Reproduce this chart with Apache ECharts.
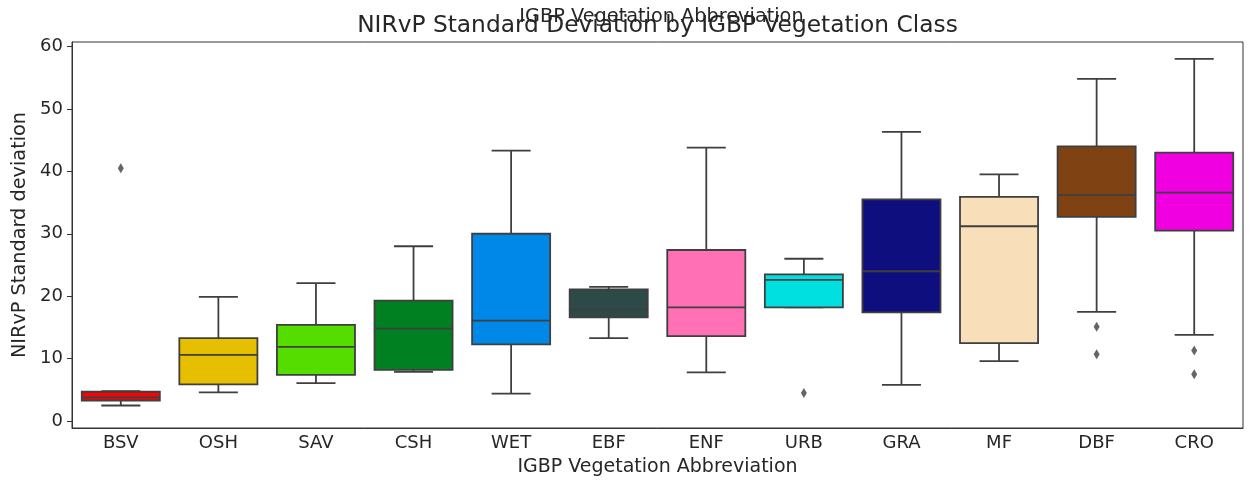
<!DOCTYPE html>
<html>
<head>
<meta charset="utf-8">
<script src="https://cdn.jsdelivr.net/npm/echarts@6/dist/echarts.min.js"></script>
<style>
  html, body { margin: 0; padding: 0; background: #fff; }
  #chart { width: 1255px; height: 484px; }
</style>
</head>
<body>
<div id="chart"></div>
<script>
// IGBP vegetation classes (x categories)
const categories = ['BSV', 'OSH', 'SAV', 'CSH', 'WET', 'EBF', 'ENF', 'URB', 'GRA', 'MF', 'DBF', 'CRO'];

// Five-number summaries per class: lower whisker, Q1, median, Q3, upper whisker
const whiskerLow  = [2.5,  4.6,  6.1,  7.9,  4.4, 13.3,  7.8, 18.2,  5.8,  9.6, 17.5, 13.8];
const quartile1   = [3.3,  5.9,  7.4,  8.2, 12.3, 16.6, 13.6, 18.2, 17.4, 12.5, 32.7, 30.5];
const medians     = [3.8, 10.6, 11.9, 14.8, 16.1, 17.9, 18.2, 22.6, 24.0, 31.2, 36.2, 36.6];
const quartile3   = [4.7, 13.3, 15.4, 19.3, 30.0, 21.1, 27.4, 23.5, 35.5, 35.9, 44.0, 43.0];
const whiskerHigh = [4.8, 19.9, 22.1, 28.0, 43.3, 21.5, 43.8, 26.0, 46.3, 39.5, 54.8, 58.0];

// Outliers: [class, value]
const outlierClass = ['BSV', 'URB', 'DBF', 'DBF', 'CRO', 'CRO'];
const outlierValue = [40.5,   4.5,  15.1,  10.7,  11.3,   7.5];

// Fill colour per class
const classColors = ['#ff0000', '#e6c000', '#55dd00', '#008020', '#0088e8', '#2b4a48',
                     '#ff70b4', '#00e0e0', '#0e0e7e', '#f8dfb9', '#7f4212', '#f000e0'];

// Y tick labels
const yTicks = [0, 10, 20, 30, 40, 50, 60];

const titleText = 'NIRvP Standard Deviation by IGBP Vegetation Class';
const xName = 'IGBP Vegetation Abbreviation';
const yName = 'NIRvP Standard deviation';

const lineColor = '#3f3f3f';
const frameColor = '#333333';
const textColor = '#262626';
const font = 'DejaVu Sans';

const gridLeft = 72, gridRight = 12;
const plotCenterX = gridLeft + (1255 - gridLeft - gridRight) / 2;

const boxData = categories.map((c, i) => [i, whiskerLow[i], quartile1[i], medians[i], quartile3[i], whiskerHigh[i]]);
const outlierData = outlierClass.map((c, i) => [categories.indexOf(c), outlierValue[i]]);

// Box with half-width whisker caps
function renderBox(params, api) {
  const idx = api.value(0);
  const lo = api.coord([idx, api.value(1)]);
  const q1 = api.coord([idx, api.value(2)]);
  const md = api.coord([idx, api.value(3)]);
  const q3 = api.coord([idx, api.value(4)]);
  const hi = api.coord([idx, api.value(5)]);
  const band = api.size([1, 0])[0];
  const half = band * 0.4;
  const cap = half / 2;
  const x = lo[0];
  const ls = { stroke: lineColor, lineWidth: 1.8 };
  return {
    type: 'group',
    children: [
      { type: 'line', shape: { x1: x, y1: q1[1], x2: x, y2: lo[1] }, style: ls },
      { type: 'line', shape: { x1: x, y1: q3[1], x2: x, y2: hi[1] }, style: ls },
      { type: 'line', shape: { x1: x - cap, y1: lo[1], x2: x + cap, y2: lo[1] }, style: ls },
      { type: 'line', shape: { x1: x - cap, y1: hi[1], x2: x + cap, y2: hi[1] }, style: ls },
      { type: 'rect', shape: { x: x - half, y: q3[1], width: half * 2, height: q1[1] - q3[1] },
        style: { fill: classColors[idx], stroke: lineColor, lineWidth: 1.8 } },
      { type: 'line', shape: { x1: x - half, y1: md[1], x2: x + half, y2: md[1] }, style: ls }
    ]
  };
}

const chart = echarts.init(document.getElementById('chart'));
chart.setOption({
  animation: false,
  backgroundColor: '#fff',
  textStyle: { fontFamily: font },
  graphic: [
    { type: 'text', x: plotCenterX, y: 26, z: 10,
      style: { text: titleText, font: '23.3px "DejaVu Sans"', fill: textColor,
               textAlign: 'center', textVerticalAlign: 'middle' } },
    { type: 'text', x: plotCenterX + 4, y: 17, z: 11,
      style: { text: xName, font: '19.3px "DejaVu Sans"', fill: textColor,
               textAlign: 'center', textVerticalAlign: 'middle' } }
  ],
  grid: { left: gridLeft, right: gridRight, top: 42, bottom: 56, show: true, borderColor: frameColor, borderWidth: 1 },
  xAxis: {
    type: 'category',
    data: categories,
    boundaryGap: true,
    name: xName,
    nameLocation: 'middle',
    nameGap: 30,
    nameTextStyle: { fontFamily: font, fontSize: 19, color: textColor },
    axisLine: { onZero: false, lineStyle: { color: frameColor } },
    axisTick: { alignWithLabel: true, length: 5, lineStyle: { color: frameColor } },
    axisLabel: { fontFamily: font, fontSize: 18, color: textColor, margin: 6 },
    splitLine: { show: false }
  },
  yAxis: {
    type: 'value',
    min: -1.1,
    max: 60.7,
    name: yName,
    nameLocation: 'middle',
    nameGap: 42,
    nameTextStyle: { fontFamily: font, fontSize: 19.3, color: textColor },
    axisLine: { show: true, onZero: false, lineStyle: { color: frameColor } },
    axisTick: { show: true, length: 5, customValues: yTicks, lineStyle: { color: frameColor } },
    axisLabel: { fontFamily: font, fontSize: 18, color: textColor, margin: 9, customValues: yTicks },
    splitLine: { show: false }
  },
  series: [
    {
      type: 'custom',
      renderItem: renderBox,
      encode: { x: 0, y: [1, 2, 3, 4, 5] },
      data: boxData,
      z: 2
    },
    {
      type: 'scatter',
      symbol: 'diamond',
      symbolSize: [6, 10],
      itemStyle: { color: lineColor },
      data: outlierData,
      z: 3
    }
  ]
});
</script>
</body>
</html>
